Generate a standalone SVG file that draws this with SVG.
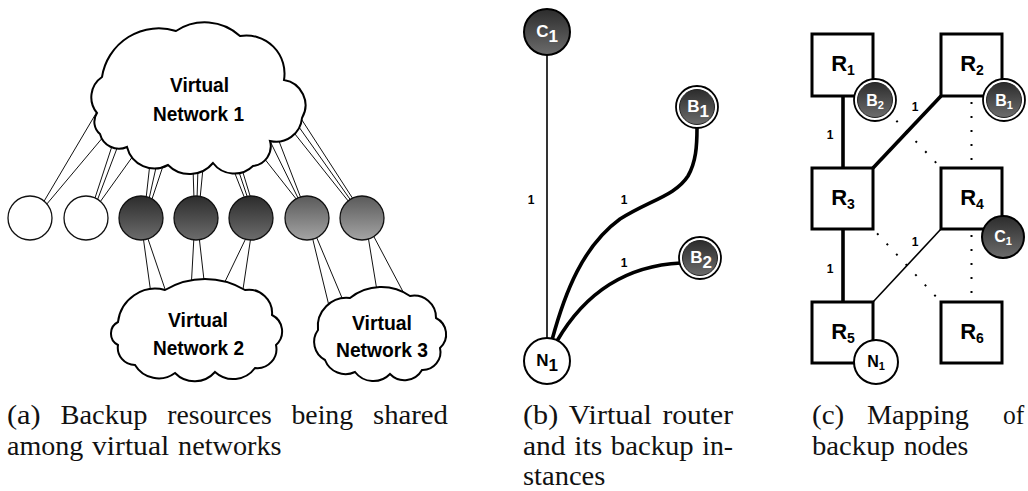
<svg xmlns="http://www.w3.org/2000/svg" width="1028" height="491" viewBox="0 0 1028 491">
  <defs>
    <linearGradient id="gDark" x1="0" y1="0" x2="0" y2="1">
      <stop offset="0" stop-color="#2c2c2c"/>
      <stop offset="1" stop-color="#6c6c6c"/>
    </linearGradient>
    <linearGradient id="gMid" x1="0" y1="0" x2="0" y2="1">
      <stop offset="0" stop-color="#5a5a5a"/>
      <stop offset="1" stop-color="#a4a4a4"/>
    </linearGradient>
    <style>
      .cloud { fill: #fff; stroke: #000; stroke-width: 2; stroke-linejoin: miter; }
      .cl { font-family: "Liberation Sans Narrow", "Liberation Sans", Arial, sans-serif; font-weight: bold; font-size: 21px; fill: #000; text-anchor: middle; }
      .link { stroke: #111; stroke-width: 1; fill: none; }
      .res { stroke: #111; stroke-width: 1.3; }
      .node { stroke: #000; stroke-width: 2; }
      .lbl { font-family: "Liberation Sans Narrow", "Liberation Sans", Arial, sans-serif; font-weight: bold; text-anchor: middle; }
      .w { fill: #fff; }
      .k { fill: #000; }
      .num { font-family: "Liberation Sans", Arial, sans-serif; font-weight: bold; font-size: 12px; fill: #000; text-anchor: middle; }
      .thick { stroke: #000; stroke-width: 3.6; fill: none; }
      .thin { stroke: #000; stroke-width: 1.6; fill: none; }
      .dots { stroke: #000; stroke-width: 2; fill: none; stroke-dasharray: 2 12; stroke-dashoffset: -6; }
      .box { fill: #fff; stroke: #000; stroke-width: 3; }
      .cap { font-family: "Liberation Serif", "Times New Roman", serif; font-size: 26.4px; fill: #111; }
    </style>
  </defs>

  <!-- (a) links between resource nodes and the three virtual networks -->
  <g id="connectors-a" class="link">
    <line x1="43" y1="203" x2="98" y2="110"/>
    <line x1="46" y1="205" x2="104" y2="136"/>
    <line x1="94" y1="201" x2="113" y2="143"/>
    <line x1="97" y1="201" x2="119" y2="143"/>
    <line x1="100" y1="202" x2="133" y2="156"/>
    <line x1="146" y1="199" x2="150" y2="163"/>
    <line x1="149" y1="199" x2="157" y2="163"/>
    <line x1="152" y1="199" x2="164" y2="163"/>
    <line x1="194" y1="199" x2="193" y2="168"/>
    <line x1="197" y1="199" x2="198" y2="168"/>
    <line x1="200" y1="199" x2="203" y2="168"/>
    <line x1="245" y1="199" x2="232" y2="166"/>
    <line x1="248" y1="199" x2="237" y2="166"/>
    <line x1="251" y1="199" x2="241" y2="166"/>
    <line x1="297" y1="200" x2="260" y2="153"/>
    <line x1="299" y1="200" x2="269" y2="139"/>
    <line x1="302" y1="201" x2="277" y2="136"/>
    <line x1="349" y1="202" x2="287" y2="124"/>
    <line x1="352" y1="202" x2="294" y2="120"/>
    <line x1="355" y1="202" x2="300" y2="117"/>
    <line x1="143" y1="236" x2="151" y2="294"/>
    <line x1="147" y1="236" x2="166" y2="292"/>
    <line x1="194" y1="236" x2="191" y2="290"/>
    <line x1="199" y1="236" x2="205" y2="289"/>
    <line x1="247" y1="236" x2="220" y2="292"/>
    <line x1="251" y1="236" x2="242" y2="296"/>
    <line x1="312" y1="236" x2="330" y2="310"/>
    <line x1="316" y1="236" x2="345" y2="305"/>
    <line x1="368" y1="236" x2="378" y2="297"/>
    <line x1="373" y1="235" x2="409" y2="303"/>
  </g>

  <!-- (a) virtual networks -->
  <g id="vn1">
    <path class="cloud" d="M 102 77 A 57.4 57.4 0 0 1 176 31 A 52.3 52.3 0 0 1 240 36 A 38.2 38.2 0 0 1 284 80 A 25.5 25.5 0 0 1 302 118 A 26 26 0 0 1 270 141 A 19.8 19.8 0 0 1 253 166 A 26.8 26.8 0 0 1 213 163 A 30.3 30.3 0 0 1 168 165 A 28.3 28.3 0 0 1 127 147 A 19.6 19.6 0 0 1 100 134 A 16 16 0 0 1 97 113 A 24.6 24.6 0 0 1 102 77 Z"/>
    <text class="cl" x="199.5" y="92" textLength="59" lengthAdjust="spacingAndGlyphs">Virtual</text>
    <text class="cl" x="198.5" y="121" textLength="91" lengthAdjust="spacingAndGlyphs">Network 1</text>
  </g>
  <g id="vn2">
    <path class="cloud" d="M 118 322 A 37.6 37.6 0 0 1 165 290 A 78.2 78.2 0 0 1 245 290 A 23.3 23.3 0 0 1 272 315 A 18.3 18.3 0 0 1 276 345 A 19.1 19.1 0 0 1 255 368 A 27 27 0 0 1 215 372 A 27.2 27.2 0 0 1 175 373 A 27.6 27.6 0 0 1 135 365 A 17.3 17.3 0 0 1 118 345 A 12.9 12.9 0 0 1 118 322 Z"/>
    <text class="cl" x="198" y="327" textLength="60" lengthAdjust="spacingAndGlyphs">Virtual</text>
    <text class="cl" x="198.5" y="355" textLength="91" lengthAdjust="spacingAndGlyphs">Network 2</text>
  </g>
  <g id="vn3">
    <path class="cloud" d="M 318 330 A 28.8 28.8 0 0 1 350 298 A 50 50 0 0 1 410 296 A 22 22 0 0 1 436 318 A 18.3 18.3 0 0 1 440 348 A 17.9 17.9 0 0 1 422 370 A 20.2 20.2 0 0 1 390 374 A 23.1 23.1 0 0 1 355 372 A 22.1 22.1 0 0 1 325 360 A 20.4 20.4 0 0 1 318 330 Z"/>
    <text class="cl" x="382" y="330" textLength="60" lengthAdjust="spacingAndGlyphs">Virtual</text>
    <text class="cl" x="382" y="357" textLength="92" lengthAdjust="spacingAndGlyphs">Network 3</text>
  </g>

  <!-- (a) backup resources -->
  <g id="res1"><circle class="res" cx="30" cy="218" r="22" fill="#fff"/></g>
  <g id="res2"><circle class="res" cx="86" cy="218" r="22" fill="#fff"/></g>
  <g id="res3"><circle class="res" cx="141" cy="218" r="22" fill="url(#gDark)"/></g>
  <g id="res4"><circle class="res" cx="196" cy="218" r="22" fill="url(#gDark)"/></g>
  <g id="res5"><circle class="res" cx="251" cy="218" r="22" fill="url(#gDark)"/></g>
  <g id="res6"><circle class="res" cx="307" cy="218" r="22" fill="url(#gMid)"/></g>
  <g id="res7"><circle class="res" cx="362" cy="218" r="22" fill="url(#gMid)"/></g>

  <!-- (b) virtual router and its backups -->
  <g id="connectors-b">
    <line x1="547" y1="55" x2="547" y2="340" stroke="#000" stroke-width="1.6"/>
    <path class="thick" d="M 552 340 C 565 292, 583 246, 620 219 C 650 200, 675 196, 688 176 C 696 162, 697 146, 697 128"/>
    <path class="thick" d="M 557 341 C 582 298, 620 266, 681 263"/>
    <text class="num" x="531" y="204">1</text>
    <text class="num" x="624" y="204">1</text>
    <text class="num" x="624" y="267">1</text>
  </g>
  <g id="b-c1">
    <circle class="node" cx="547" cy="32" r="23" fill="url(#gDark)"/>
    <text class="lbl w" x="547" y="37" font-size="17">C<tspan dy="5">1</tspan></text>
  </g>
  <g id="b-b1">
    <circle cx="697" cy="107" r="21" fill="#fff" stroke="#000" stroke-width="1.8"/>
    <circle cx="697" cy="107" r="17.5" fill="url(#gDark)" stroke="#222" stroke-width="1"/>
    <text class="lbl w" x="698" y="112" font-size="17">B<tspan dy="5">1</tspan></text>
  </g>
  <g id="b-b2">
    <circle cx="700" cy="258" r="21" fill="#fff" stroke="#000" stroke-width="1.8"/>
    <circle cx="700" cy="258" r="17.5" fill="url(#gDark)" stroke="#222" stroke-width="1"/>
    <text class="lbl w" x="701" y="263" font-size="17">B<tspan dy="5">2</tspan></text>
  </g>
  <g id="b-n1">
    <circle class="node" cx="547" cy="361" r="23" fill="#fff"/>
    <text class="lbl k" x="547" y="366" font-size="17">N<tspan dy="5">1</tspan></text>
  </g>

  <!-- (c) mapping onto physical routers -->
  <g id="connectors-c">
    <path class="dots" d="M 873 96 L 941 168"/>
    <path class="dots" d="M 971.5 96 V 168"/>
    <path class="dots" d="M 873 229 L 941 302"/>
    <path class="dots" d="M 971.5 229 V 302"/>
    <path class="thick" d="M 843 96 V 168"/>
    <path class="thick" d="M 843 229 V 302"/>
    <path class="thick" d="M 941 96 L 873 168"/>
    <path class="thin" d="M 941 229 L 873 302"/>
    <text class="num" x="830" y="139">1</text>
    <text class="num" x="915" y="111">1</text>
    <text class="num" x="830" y="273">1</text>
    <text class="num" x="915" y="246">1</text>
  </g>
  <g id="r1">
    <rect class="box" x="812" y="34" width="61" height="62"/>
    <text class="lbl k" x="843" y="71" font-size="22">R<tspan dy="4" font-size="14">1</tspan></text>
  </g>
  <g id="r2">
    <rect class="box" x="941" y="34" width="61" height="62"/>
    <text class="lbl k" x="972" y="71" font-size="22">R<tspan dy="4" font-size="14">2</tspan></text>
  </g>
  <g id="r3">
    <rect class="box" x="812" y="168" width="61" height="61"/>
    <text class="lbl k" x="843" y="205" font-size="22">R<tspan dy="4" font-size="14">3</tspan></text>
  </g>
  <g id="r4">
    <rect class="box" x="941" y="168" width="61" height="61"/>
    <text class="lbl k" x="972" y="205" font-size="22">R<tspan dy="4" font-size="14">4</tspan></text>
  </g>
  <g id="r5">
    <rect class="box" x="812" y="302" width="61" height="61"/>
    <text class="lbl k" x="843" y="339" font-size="22">R<tspan dy="4" font-size="14">5</tspan></text>
  </g>
  <g id="r6">
    <rect class="box" x="941" y="302" width="61" height="61"/>
    <text class="lbl k" x="972" y="339" font-size="22">R<tspan dy="4" font-size="14">6</tspan></text>
  </g>
  <g id="c-b2">
    <circle cx="875" cy="100" r="21" fill="#fff" stroke="#000" stroke-width="1.8"/>
    <circle cx="875" cy="100" r="17.5" fill="url(#gDark)" stroke="#222" stroke-width="1"/>
    <text class="lbl w" x="875" y="106" font-size="16">B<tspan dy="3" font-size="11">2</tspan></text>
  </g>
  <g id="c-b1">
    <circle cx="1004" cy="100" r="21" fill="#fff" stroke="#000" stroke-width="1.8"/>
    <circle cx="1004" cy="100" r="17.5" fill="url(#gDark)" stroke="#222" stroke-width="1"/>
    <text class="lbl w" x="1004" y="106" font-size="16">B<tspan dy="3" font-size="11">1</tspan></text>
  </g>
  <g id="c-c1">
    <circle class="node" cx="1003" cy="237" r="21" fill="url(#gDark)"/>
    <text class="lbl w" x="1003" y="242" font-size="16">C<tspan dy="3" font-size="11">1</tspan></text>
  </g>
  <g id="c-n1">
    <circle class="node" cx="876" cy="362" r="22" fill="#fff"/>
    <text class="lbl k" x="876" y="367" font-size="16">N<tspan dy="3" font-size="11">1</tspan></text>
  </g>

  <!-- captions, one word per text so the justified spacing holds -->
  <g id="captions" class="cap" lengthAdjust="spacingAndGlyphs">
    <text x="7" y="424" textLength="33.7" lengthAdjust="spacingAndGlyphs">(a)</text>
    <text x="60.5" y="424" textLength="86.9" lengthAdjust="spacingAndGlyphs">Backup</text>
    <text x="167.2" y="424" textLength="104.5" lengthAdjust="spacingAndGlyphs">resources</text>
    <text x="291.5" y="424" textLength="61.6" lengthAdjust="spacingAndGlyphs">being</text>
    <text x="373" y="424" textLength="75" lengthAdjust="spacingAndGlyphs">shared</text>
    <text x="7" y="455" textLength="76.3" lengthAdjust="spacingAndGlyphs">among</text>
    <text x="92.1" y="455" textLength="77.1" lengthAdjust="spacingAndGlyphs">virtual</text>
    <text x="178" y="455" textLength="103.6" lengthAdjust="spacingAndGlyphs">networks</text>
    <text x="523" y="424" textLength="35.2" lengthAdjust="spacingAndGlyphs">(b)</text>
    <text x="568.8" y="424" textLength="83" lengthAdjust="spacingAndGlyphs">Virtual</text>
    <text x="662.4" y="424" textLength="70.6" lengthAdjust="spacingAndGlyphs">router</text>
    <text x="523" y="455" textLength="42.6" lengthAdjust="spacingAndGlyphs">and</text>
    <text x="574.2" y="455" textLength="28" lengthAdjust="spacingAndGlyphs">its</text>
    <text x="610.8" y="455" textLength="82.9" lengthAdjust="spacingAndGlyphs">backup</text>
    <text x="702.2" y="455" textLength="30.8" lengthAdjust="spacingAndGlyphs">in-</text>
    <text x="523" y="485" textLength="82.4" lengthAdjust="spacingAndGlyphs">stances</text>
    <text x="812" y="424" textLength="32.3" lengthAdjust="spacingAndGlyphs">(c)</text>
    <text x="867" y="424" textLength="102" lengthAdjust="spacingAndGlyphs">Mapping</text>
    <text x="1003" y="424" textLength="21.3" lengthAdjust="spacingAndGlyphs">of</text>
    <text x="812" y="455" textLength="82.9" lengthAdjust="spacingAndGlyphs">backup</text>
    <text x="903.7" y="455" textLength="64.7" lengthAdjust="spacingAndGlyphs">nodes</text>
  </g>
</svg>
